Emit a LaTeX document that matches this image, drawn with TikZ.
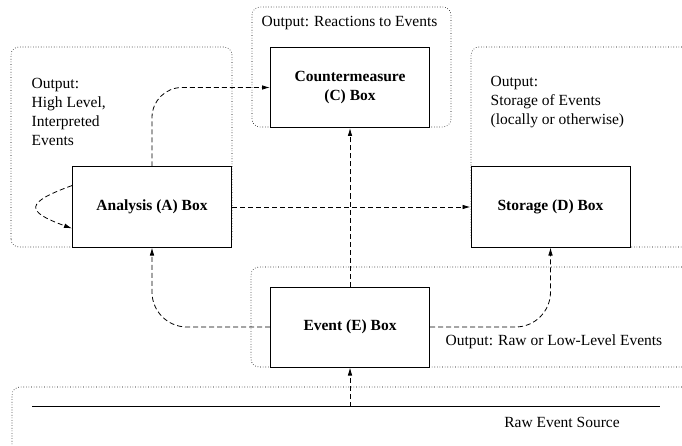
\documentclass[tikz,border=0pt]{standalone}
\usepackage{fontspec}
\setmainfont{Liberation Serif}
\newfontfamily\timesfont{Liberation Serif}
\usetikzlibrary{arrows.meta}
\tikzset{
	box/.style={draw, line width=1pt, fill=white, minimum width=159pt, minimum height=80pt,
		inner sep=0pt, align=center, font=\timesfont\fontsize{15.5}{19}\selectfont\bfseries},
	region/.style={dotted, line width=0.6pt, rounded corners=8pt},
	flow/.style={dash pattern=on 5pt off 3pt, line width=0.8pt, -{Latex[length=8pt,width=4.5pt]}},
	note/.style={font=\timesfont\fontsize{15.5}{19}\selectfont, align=left, inner sep=0pt, anchor=west},
}
\begin{document}
\begin{tikzpicture}[x=1pt,y=1pt]
	\useasboundingbox (0,0) rectangle (682,445);
	% dotted regions
	\draw[region] (11,198) rectangle (232,398);
	\draw[region] (252,318) rectangle (451,438);
	\draw[region] (700,398) -- (471,398) -- (471,198) -- (700,198);
	\draw[region] (700,178) -- (251,178) -- (251,78) -- (700,78);
	\draw[region] (700,58) -- (12,58) -- (12,-20);
	% boxes
	\node[box] (A) at (152,238) {Analysis (A) Box};
	\node[box] (C) at (350,357.5) {Countermeasure\\(C) Box};
	\node[box] (D) at (550.5,238) {Storage (D) Box};
	\node[box] (E) at (350,118) {Event (E) Box};
	% outputs
	\node[note] (outA) at (31.5,333.5) {Output:\\High Level,\\Interpreted\\Events};
	\node[note] (outC) at (261.5,422) {Output: Reactions to Events};
	\node[note] (outD) at (490.5,343) {Output:\\Storage of Events\\(locally or otherwise)};
	\node[note] (outE) at (445.5,103.5) {Output: Raw or Low-Level Events};
	% raw event source
	\coordinate (srcL) at (32,38.5);
	\coordinate (srcR) at (660,38.5);
	\draw[line width=1.6pt] (srcL) -- (srcR);
	\node[note, anchor=center] (src) at (562,23) {Raw Event Source};
	% connectors
	\draw[flow, rounded corners=30pt] (A.north) |- (C.west);
	\draw[flow] (A.165) to[out=200, in=160, looseness=3] (A.195);
	\draw[flow] (A.east) -- (D.west);
	\draw[flow] (E.north) -- (C.south);
	\draw[flow, rounded corners=35pt] (E.west) -| (A.south);
	\draw[flow, rounded corners=35pt] (E.east) -| (D.south);
	\draw[flow] (E.south |- srcL) -- (E.south);
\end{tikzpicture}
\end{document}
